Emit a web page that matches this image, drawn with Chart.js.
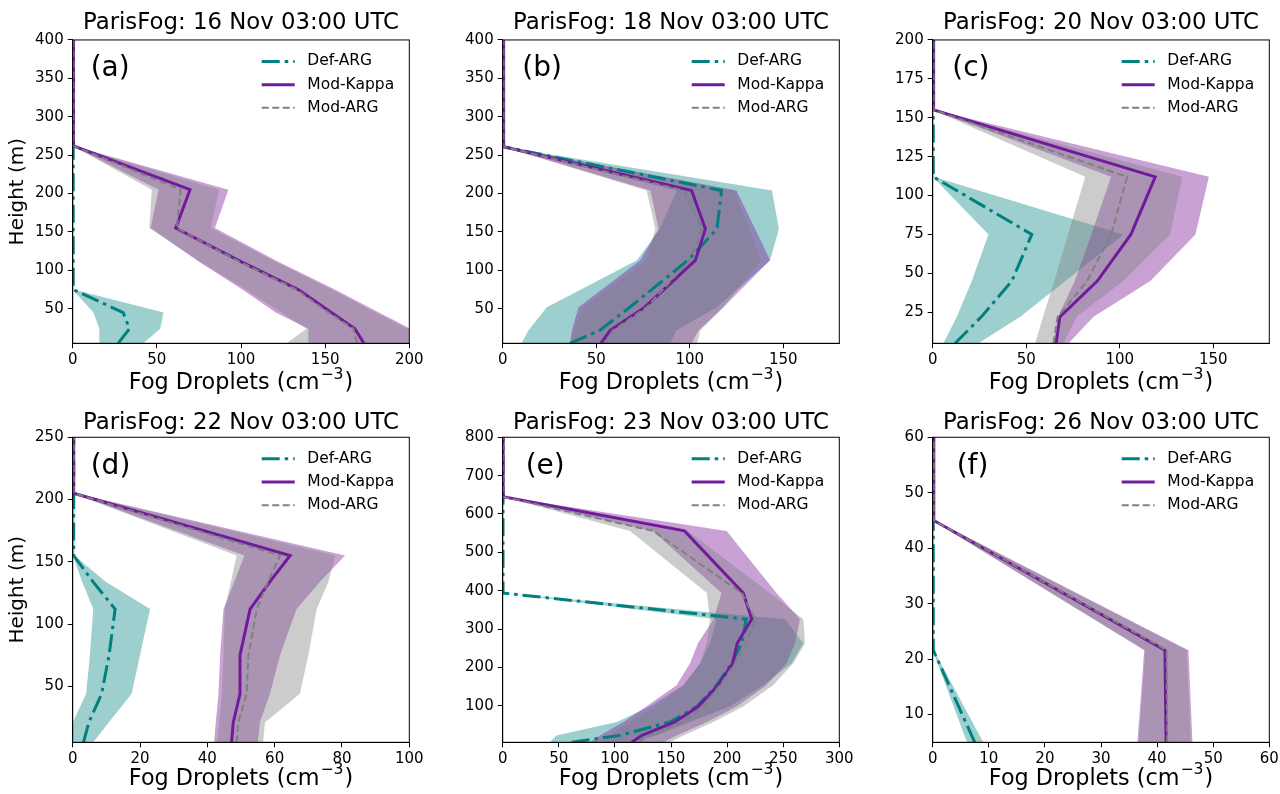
<!DOCTYPE html>
<html lang="en">
<head>
<meta charset="UTF-8" />
<title>ParisFog fog droplet profiles</title>
<script src="https://cdn.jsdelivr.net/npm/chart.js"></script>
<style>
  * { margin: 0; padding: 0; box-sizing: border-box; }
  html, body { width: 1280px; height: 794px; background: #fff; overflow: hidden; }
  canvas { position: absolute; }
</style>
</head>
<body>
<script>
// ---- data (x = droplets cm-3, y = height m) ----
const seriesNames = ['Def-ARG', 'Mod-Kappa', 'Mod-ARG'];
const titles = ['ParisFog: 16 Nov 03:00 UTC', 'ParisFog: 18 Nov 03:00 UTC', 'ParisFog: 20 Nov 03:00 UTC',
                'ParisFog: 22 Nov 03:00 UTC', 'ParisFog: 23 Nov 03:00 UTC', 'ParisFog: 26 Nov 03:00 UTC'];
const tags = ['(a)', '(b)', '(c)', '(d)', '(e)', '(f)'];

// (a) 16 Nov
const heightsA    = [5, 24, 45, 75, 112, 155, 205, 262, 400];
const defArgA     = [27, 33.7, 30, 0.3, 0.3, 0.3, 0.3, 0.3, 0.3];
const defArgLoA   = [15.8, 15.8, 12.3, 0, 0, 0, 0, 0, 0];
const defArgHiA   = [42, 52, 54, 0.5, 0.5, 0.5, 0.5, 0.5, 0.5];
const modKappaA   = [173, 167.7, 153.7, 134, 99.4, 61.2, 69.7, 0.5, 0.5];
const modKappaLoA = [140, 140, 120.6, 100.8, 74.6, 46.3, 51, 0, 0];
const modKappaHiA = [219, 200.6, 182, 155.8, 121.6, 84.5, 92.5, 0.6, 0.6];
const modArgA     = [169, 166.7, 152, 133, 98.5, 61.8, 64.2, 0.4, 0.4];
const modArgLoA   = [127, 139, 123.8, 102.8, 75.2, 45.5, 47, 0, 0];
const modArgHiA   = [216, 199, 180, 154, 120, 82, 87, 0.6, 0.6];

// (b) 18 Nov
const heightsB    = [5, 22, 52, 113, 154, 204, 261, 400];
const defArgB     = [36, 52, 68, 99, 114.6, 117, 0.4, 0.4];
const defArgLoB   = [10, 13.8, 23.6, 71.8, 84, 93, 0, 0];
const defArgHiB   = [89.6, 93, 114.6, 143, 147.7, 144, 0.6, 0.6];
const modKappaB   = [52.5, 57.5, 76, 103, 108.4, 101, 0.5, 0.5];
const modKappaLoB = [36, 37, 40.5, 73.6, 83.4, 79, 0, 0];
const modKappaHiB = [101, 104.8, 118, 143, 135, 125, 0.6, 0.6];
const modArgB     = [54.8, 59, 77, 100, 106.6, 96.8, 0.4, 0.4];
const modArgLoB   = [36, 38, 43, 77, 81.6, 77, 0, 0];
const modArgHiB   = [104, 105.7, 118, 138, 132, 123.6, 0.6, 0.6];

// (c) 20 Nov
const heightsC    = [5, 22, 45, 75, 112, 155, 200];
const defArgC     = [12, 26, 42.3, 53, 0.3, 0.3, 0.3];
const defArgLoC   = [5.7, 12.9, 20.9, 29.8, 0, 0, 0];
const defArgHiC   = [24.5, 46.8, 71, 102, 0.5, 0.5, 0.5];
const modKappaC   = [66, 68, 88, 106, 119, 0.5, 0.5];
const modKappaLoC = [64.6, 67, 76, 84.8, 95.4, 0, 0];
const modKappaHiC = [72.7, 86, 116.4, 140.5, 147.7, 0.6, 0.6];
const modArgC     = [64.6, 66.8, 82.5, 95.4, 104, 0.4, 0.4];
const modArgLoC   = [54.8, 59, 65, 72.3, 81.6, 0, 0];
const modArgHiC   = [70, 77, 102, 127, 133.4, 0.6, 0.6];

// (d) 22 Nov
const heightsD    = [5, 21, 44, 75, 112, 134, 155, 205, 250];
const defArgD     = [3.2, 4.8, 8.6, 10.8, 12.6, 6, 0.3, 0.3, 0.3];
const defArgLoD   = [0, 0, 4, 5.1, 6.1, 2.8, 0, 0, 0];
const defArgHiD   = [6.1, 10.7, 17.5, 20, 23, 9.8, 0.5, 0.5, 0.5];
const modKappaD   = [47.2, 47.7, 49.7, 49.7, 52.7, 58.6, 64.6, 0.3, 0.3];
const modKappaLoD = [42, 42.5, 43.3, 43.8, 44.8, 48, 51, 0, 0];
const modKappaHiD = [55, 55.6, 58.6, 61.6, 66.5, 73.5, 80.9, 0.6, 0.6];
const modArgD     = [48.7, 49.2, 51.7, 52.2, 54.7, 58, 61.6, 0.3, 0.3];
const modArgLoD   = [42.8, 43.5, 44.3, 44.8, 45.2, 47, 48.7, 0, 0];
const modArgHiD   = [56.6, 57.1, 67.5, 70, 72.5, 76, 78, 0.6, 0.6];

// (e) 23 Nov
const heightsE    = [5, 23, 58, 98, 154, 211, 263, 326, 394, 556, 645, 800];
const defArgE     = [61.5, 104.5, 149, 173, 190.7, 204, 213, 217, 0.3, 0.3, 0.3, 0.3];
const defArgLoE   = [42, 48, 101.6, 131, 161, 176, 184.7, 190.7, 0, 0, 0, 0];
const defArgHiE   = [116, 137, 167, 202.5, 232, 257.5, 268, 251.6, 0.5, 0.5, 0.5, 0.5];
const modKappaE   = [115, 124, 153.5, 174.3, 192, 205, 209, 222, 214.4, 162, 0.4, 0.4];
const modKappaLoE = [77.8, 86.7, 107.5, 128, 155, 167, 174, 188, 195, 134, 0, 0];
const modKappaHiE = [143, 155, 182, 208.5, 235, 253, 260.5, 265, 244, 199.6, 0.6, 0.6];
const modArgE     = [121, 131, 161, 179, 193.6, 207, 217, 225, 213, 134, 0.4, 0.4];
const modArgLoE   = [89.7, 95.6, 113.5, 137, 161, 176, 181.8, 184.7, 182, 113.5, 0, 0];
const modArgHiE   = [149, 161, 187.7, 214.4, 241, 259, 269.4, 268, 238, 165, 0.6, 0.6];

// (f) 26 Nov
const heightsF    = [5, 21.6, 45, 60];
const defArgF     = [7.5, 0.1, 0.1, 0.1];
const defArgLoF   = [6.1, 0, 0, 0];
const defArgHiF   = [9, 0.2, 0.2, 0.2];
const modKappaF   = [41.6, 41.4, 0.2, 0.2];
const modKappaLoF = [36.5, 37.7, 0, 0];
const modKappaHiF = [46.3, 45.6, 0.4, 0.4];
const modArgF     = [41.8, 41.7, 0.2, 0.2];
const modArgLoF   = [36.7, 37.9, 0, 0];
const modArgHiF   = [46, 45.3, 0.4, 0.4];

// axis limits and tick labels
const xMaxes = [200, 180, 180, 100, 300, 60];
const yMaxes = [400, 400, 200, 250, 800, 60];
const xTicksA = [0, 50, 100, 150, 200];
const xTicksB = [0, 50, 100, 150];
const xTicksC = [0, 50, 100, 150];
const xTicksD = [0, 20, 40, 60, 80, 100];
const xTicksE = [0, 50, 100, 150, 200, 250, 300];
const xTicksF = [0, 10, 20, 30, 40, 50, 60];
const yTicksA = [50, 100, 150, 200, 250, 300, 350, 400];
const yTicksB = [50, 100, 150, 200, 250, 300, 350, 400];
const yTicksC = [25, 50, 75, 100, 125, 150, 175, 200];
const yTicksD = [50, 100, 150, 200, 250];
const yTicksE = [100, 200, 300, 400, 500, 600, 700, 800];
const yTicksF = [10, 20, 30, 40, 50, 60];

// ---- styling ----
Chart.defaults.font.family = '"DejaVu Sans", sans-serif';
Chart.defaults.color = '#000';

const TEAL = '#008080', PURPLE = '#721a9e', GRAY = '#808080';
const TEAL_BAND = 'rgba(0,128,128,0.38)';
const PURPLE_BAND = 'rgba(126,30,156,0.42)';
const GRAY_BAND = 'rgba(128,128,128,0.4)';

const legendStyles = [
  { color: TEAL, width: 3, dash: [18, 5, 3.5, 5] },
  { color: PURPLE, width: 3, dash: [] },
  { color: GRAY, width: 2, dash: [7, 3.5] }
];

const panels = [
  { heights: heightsA, def: [defArgA, defArgLoA, defArgHiA], kap: [modKappaA, modKappaLoA, modKappaHiA], arg: [modArgA, modArgLoA, modArgHiA], xTicks: xTicksA, yTicks: yTicksA, tagX: 18 },
  { heights: heightsB, def: [defArgB, defArgLoB, defArgHiB], kap: [modKappaB, modKappaLoB, modKappaHiB], arg: [modArgB, modArgLoB, modArgHiB], xTicks: xTicksB, yTicks: yTicksB, tagX: 19.6 },
  { heights: heightsC, def: [defArgC, defArgLoC, defArgHiC], kap: [modKappaC, modKappaLoC, modKappaHiC], arg: [modArgC, modArgLoC, modArgHiC], xTicks: xTicksC, yTicks: yTicksC, tagX: 19.6 },
  { heights: heightsD, def: [defArgD, defArgLoD, defArgHiD], kap: [modKappaD, modKappaLoD, modKappaHiD], arg: [modArgD, modArgLoD, modArgHiD], xTicks: xTicksD, yTicks: yTicksD, tagX: 18 },
  { heights: heightsE, def: [defArgE, defArgLoE, defArgHiE], kap: [modKappaE, modKappaLoE, modKappaHiE], arg: [modArgE, modArgLoE, modArgHiE], xTicks: xTicksE, yTicks: yTicksE, tagX: 23 },
  { heights: heightsF, def: [defArgF, defArgLoF, defArgHiF], kap: [modKappaF, modKappaLoF, modKappaHiF], arg: [modArgF, modArgLoF, modArgHiF], xTicks: xTicksF, yTicks: yTicksF, tagX: 24 }
];

// per-row layout of each 430x397 canvas
const rows = [
  { top: 40, bottom: 343.3, titleY: 23, xLabelY: 383.5 },
  { top: 40.3, bottom: 345.3, titleY: 26, xLabelY: 382 }
];
const CW = 430, CH = 397, AXIS_LEFT = 72.7, AXIS_RIGHT = 409.3;

// frame, panel letter, x label with superscript and the in-axes legend
const panelDecor = {
  id: 'panelDecor',
  afterDraw(chart, args, opts) {
    const { ctx, chartArea: a } = chart;
    ctx.save();
    ctx.strokeStyle = '#000';
    ctx.lineWidth = 1;
    ctx.strokeRect(a.left, a.top, a.right - a.left, a.bottom - a.top);
    ctx.fillStyle = '#000';
    ctx.textBaseline = 'middle';
    ctx.textAlign = 'left';
    ctx.font = '28px "DejaVu Sans"';
    ctx.fillText(opts.tag, a.left + opts.tagX, a.top + 29);

    // x axis label: Fog Droplets (cm^-3)
    const main = 'Fog Droplets (cm', sup = '\u22123', close = ')';
    const big = '22.3px "DejaVu Sans"', small = '15.6px "DejaVu Sans"';
    ctx.font = big;
    const w1 = ctx.measureText(main).width, w3 = ctx.measureText(close).width;
    ctx.font = small;
    const w2 = ctx.measureText(sup).width;
    const x = (a.left + a.right) / 2 - (w1 + w2 + w3 + 2) / 2;
    const y = opts.xLabelY;
    ctx.font = big;
    ctx.fillText(main, x, y);
    ctx.font = small;
    ctx.fillText(sup, x + w1 + 1, y - 9);
    ctx.font = big;
    ctx.fillText(close, x + w1 + w2 + 2, y);

    ctx.font = '15.5px "DejaVu Sans"';
    seriesNames.forEach((name, i) => {
      const st = legendStyles[i];
      const ly = a.top + 21.5 + i * 23.2;
      ctx.beginPath();
      ctx.setLineDash(st.dash);
      ctx.lineWidth = st.width;
      ctx.strokeStyle = st.color;
      ctx.moveTo(a.left + 189, ly);
      ctx.lineTo(a.left + 222, ly);
      ctx.stroke();
      ctx.setLineDash([]);
      ctx.fillText(name, a.left + 234.6, ly);
    });
    ctx.restore();
  }
};

function pts(xs, hs) { return xs.map((v, i) => ({ x: v, y: hs[i] })); }

function lineSet(label, xs, hs, color, width, dash) {
  return { label, data: pts(xs, hs), borderColor: color, borderWidth: width, borderDash: dash, fill: false, pointRadius: 0, tension: 0 };
}
function bandEdge(xs, hs, fillColor, isUpper) {
  return { data: pts(xs, hs), borderColor: 'rgba(0,0,0,0)', borderWidth: 0, backgroundColor: fillColor, fill: isUpper ? '+1' : false, pointRadius: 0, tension: 0 };
}

panels.forEach((p, k) => {
  const col = k % 3, row = Math.floor(k / 3), r = rows[row];
  const cv = document.createElement('canvas');
  cv.width = CW; cv.height = CH;
  cv.style.left = (col * CW) + 'px';
  cv.style.top = (row * CH) + 'px';
  document.body.appendChild(cv);

  const h = p.heights;
  const datasets = [
    lineSet(seriesNames[2], p.arg[0], h, GRAY, 2, [7, 3.5]),
    lineSet(seriesNames[1], p.kap[0], h, PURPLE, 3, []),
    lineSet(seriesNames[0], p.def[0], h, TEAL, 3, [18, 5, 3.5, 5]),
    bandEdge(p.arg[2], h, GRAY_BAND, true),
    bandEdge(p.arg[1], h, GRAY_BAND, false),
    bandEdge(p.kap[2], h, PURPLE_BAND, true),
    bandEdge(p.kap[1], h, PURPLE_BAND, false),
    bandEdge(p.def[2], h, TEAL_BAND, true),
    bandEdge(p.def[1], h, TEAL_BAND, false)
  ];

  new Chart(cv, {
    type: 'line',
    data: { datasets },
    plugins: [panelDecor],
    options: {
      indexAxis: 'y',
      responsive: false,
      animation: false,
      events: [],
      layout: { padding: { left: 0, right: CW - AXIS_RIGHT, top: 0, bottom: 0 } },
      scales: {
        x: {
          type: 'linear', position: 'bottom', min: 0, max: xMaxes[k],
          afterBuildTicks: s => { s.ticks = p.xTicks.map(v => ({ value: v })); },
          afterFit: s => { s.height = CH - r.bottom; },
          ticks: { font: { size: 15 }, color: '#000', padding: 3, maxRotation: 0 },
          grid: { drawOnChartArea: false, color: '#000', tickLength: 5, lineWidth: 1 },
          border: { color: '#000', width: 1 },
          title: { display: false }
        },
        y: {
          type: 'linear', position: 'left', min: 5, max: yMaxes[k],
          afterBuildTicks: s => { s.ticks = p.yTicks.map(v => ({ value: v })); },
          afterFit: s => { s.width = AXIS_LEFT; },
          ticks: { font: { size: 15 }, color: '#000', padding: 4 },
          grid: { drawOnChartArea: false, color: '#000', tickLength: 5, lineWidth: 1 },
          border: { color: '#000', width: 1 },
          title: { display: col === 0, text: 'Height (m)', font: { size: 20 }, color: '#000', padding: { top: 6, bottom: 0 } }
        }
      },
      plugins: {
        legend: { display: false },
        tooltip: { enabled: false },
        title: {
          display: true, text: titles[k], fullSize: false, color: '#000',
          font: { size: 22.8, weight: 'normal', lineHeight: 1.2 },
          padding: { top: r.titleY - 13.7, bottom: r.top - r.titleY - 13.7 }
        },
        panelDecor: { tag: tags[k], tagX: p.tagX, xLabelY: r.xLabelY }
      }
    }
  });
});
</script>
</body>
</html>
